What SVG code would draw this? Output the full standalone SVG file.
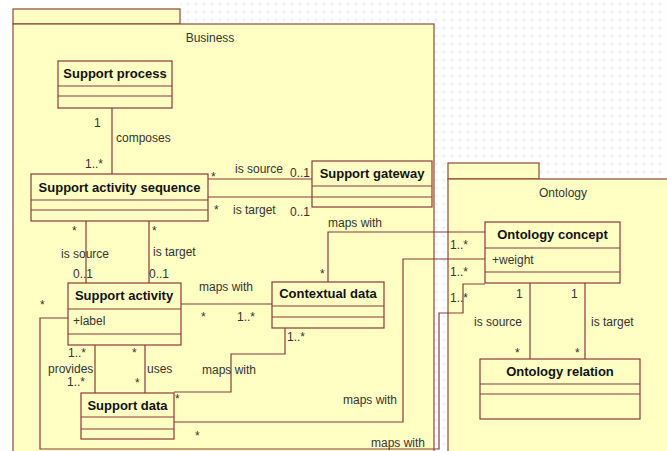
<svg xmlns="http://www.w3.org/2000/svg" width="667" height="451" viewBox="0 0 667 451">
<defs>
<pattern id="grid" x="0" y="0" width="8" height="8" patternUnits="userSpaceOnUse">
<path d="M4 2v4M2 4h4" stroke="#ebebf0" stroke-width="0.8"/>
</pattern>
</defs>
<style>
.pkg{fill:#FFFFC4;stroke:#8B4A3A;stroke-width:1.2}
.cls{fill:#FFFFC4;stroke:#8B3A3A;stroke-width:1.2}
.div{stroke:#8B3A3A;stroke-width:1.2}
.con{fill:none;stroke:#8B3A3A;stroke-width:1.2}
.t{font-family:"Liberation Sans",Arial,sans-serif;font-size:12px;fill:#333}
.b{font-family:"Liberation Sans",Arial,sans-serif;font-size:13px;font-weight:bold;fill:#111;text-anchor:middle}
.pn{font-family:"Liberation Sans",Arial,sans-serif;font-size:12px;fill:#333;text-anchor:middle}
</style>
<rect width="667" height="451" fill="#fff"/>
<rect x="180" y="0" width="487" height="451" fill="url(#grid)"/>

<g id="pkg-business">
<rect class="pkg" x="13" y="9" width="167" height="15"/>
<rect class="pkg" x="13" y="24" width="421" height="440"/>
<text class="pn" x="210" y="42">Business</text>
</g>
<g id="pkg-ontology">
<rect class="pkg" x="448" y="163" width="91" height="16"/>
<rect class="pkg" x="448" y="179" width="240" height="290"/>
<text class="pn" x="563" y="197">Ontology</text>
</g>

<g id="connectors">
<path class="con" d="M112 108V174"/>
<path class="con" d="M208 179H312"/>
<path class="con" d="M208 197H312"/>
<path class="con" d="M86 221V283"/>
<path class="con" d="M149 221V283"/>
<path class="con" d="M181 304H272"/>
<path class="con" d="M328 282V232H485"/>
<path class="con" d="M95 345V393"/>
<path class="con" d="M145 345V393"/>
<path class="con" d="M174 392H231V354H285V328"/>
<path class="con" d="M174 422H403V259H485"/>
<path class="con" d="M68 318H40V449H439V313H463V284H485"/>
<path class="con" d="M530 283V359"/>
<path class="con" d="M585 283V359"/>
</g>

<g id="support-process">
<rect class="cls" x="58" y="61" width="114" height="47"/>
<path class="div" d="M58 86H172M58 96H172"/>
<text class="b" x="115" y="78">Support process</text>
</g>
<g id="support-activity-sequence">
<rect class="cls" x="31" y="174" width="177" height="47"/>
<path class="div" d="M31 200H208M31 210H208"/>
<text class="b" x="119.5" y="192">Support activity sequence</text>
</g>
<g id="support-gateway">
<rect class="cls" x="312" y="161" width="120" height="46"/>
<path class="div" d="M312 186H432M312 197H432"/>
<text class="b" x="372" y="178">Support gateway</text>
</g>
<g id="support-activity">
<rect class="cls" x="68" y="283" width="113" height="62"/>
<path class="div" d="M68 309H181M68 334H181"/>
<text class="b" x="124" y="300">Support activity</text>
<text class="t" x="73" y="325">+label</text>
</g>
<g id="contextual-data">
<rect class="cls" x="272" y="282" width="112" height="46"/>
<path class="div" d="M272 306H384M272 317H384"/>
<text class="b" x="328" y="298">Contextual data</text>
</g>
<g id="support-data">
<rect class="cls" x="81" y="393" width="93" height="46"/>
<path class="div" d="M81 417H174M81 429H174"/>
<text class="b" x="127.5" y="410">Support data</text>
</g>
<g id="ontology-concept">
<rect class="cls" x="485" y="222" width="135" height="61"/>
<path class="div" d="M485 248H620M485 272H620"/>
<text class="b" x="552.5" y="239">Ontology concept</text>
<text class="t" x="492" y="264">+weight</text>
</g>
<g id="ontology-relation">
<rect class="cls" x="480" y="359" width="160" height="60"/>
<path class="div" d="M480 384H640M480 394H640"/>
<text class="b" x="560" y="376">Ontology relation</text>
</g>

<g id="labels">
<text class="t" x="94" y="127">1</text>
<text class="t" x="116" y="142">composes</text>
<text class="t" x="85" y="168">1..*</text>
<text class="t" x="211" y="181">*</text>
<text class="t" x="235" y="173">is source</text>
<text class="t" x="290" y="177">0..1</text>
<text class="t" x="214" y="214">*</text>
<text class="t" x="233" y="214">is target</text>
<text class="t" x="290" y="216">0..1</text>
<text class="t" x="72" y="235">*</text>
<text class="t" x="61" y="258">is source</text>
<text class="t" x="73" y="278">0..1</text>
<text class="t" x="152" y="235">*</text>
<text class="t" x="153" y="256">is target</text>
<text class="t" x="149" y="278">0..1</text>
<text class="t" x="199" y="291">maps with</text>
<text class="t" x="328" y="227">maps with</text>
<text class="t" x="320" y="278">*</text>
<text class="t" x="201" y="321">*</text>
<text class="t" x="237" y="321">1..*</text>
<text class="t" x="287" y="341">1..*</text>
<text class="t" x="40" y="309">*</text>
<text class="t" x="68" y="357">1..*</text>
<text class="t" x="48" y="373">provides</text>
<text class="t" x="67" y="386">1..*</text>
<text class="t" x="132" y="357">*</text>
<text class="t" x="147" y="373">uses</text>
<text class="t" x="135" y="387">*</text>
<text class="t" x="202" y="374">maps with</text>
<text class="t" x="175" y="403">*</text>
<text class="t" x="343" y="404">maps with</text>
<text class="t" x="195" y="440">*</text>
<text class="t" x="371" y="447">maps with</text>
<text class="t" x="450" y="249">1..*</text>
<text class="t" x="450" y="276">1..*</text>
<text class="t" x="450" y="302">1..*</text>
<text class="t" x="516" y="298">1</text>
<text class="t" x="571" y="298">1</text>
<text class="t" x="474" y="326">is source</text>
<text class="t" x="591" y="326">is target</text>
<text class="t" x="515" y="357">*</text>
<text class="t" x="575" y="357">*</text>
</g>
</svg>
